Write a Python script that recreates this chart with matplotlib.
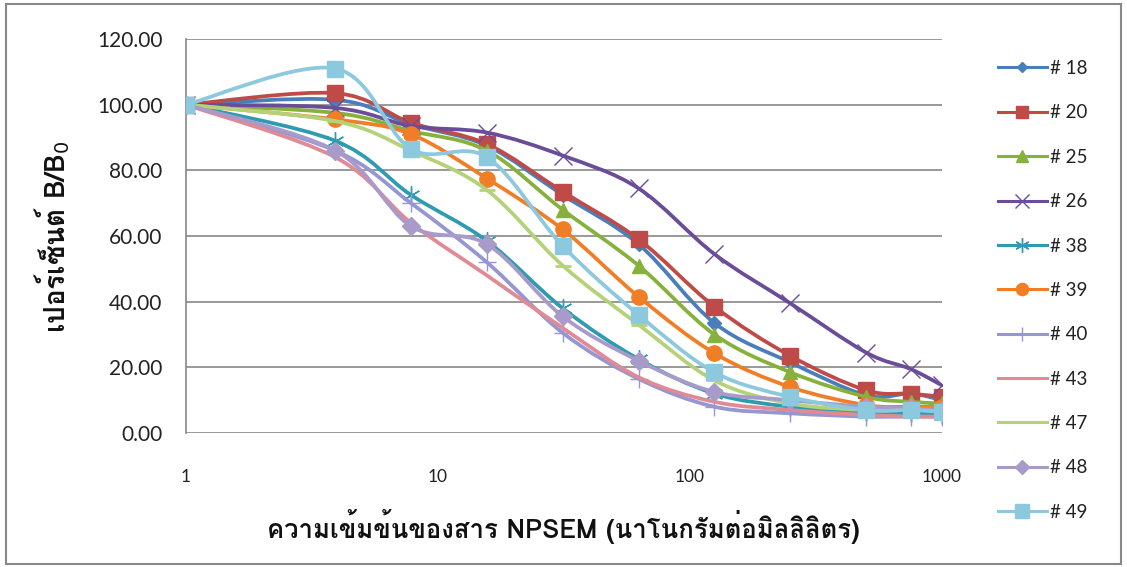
import numpy as np
import matplotlib
matplotlib.use("Agg")
import matplotlib.pyplot as plt
from matplotlib.path import Path
from matplotlib.patches import PathPatch, Rectangle
from matplotlib.lines import Line2D
import matplotlib.font_manager as fm
from matplotlib.ft2font import FT2Font

# ---------------- data ----------------
conc = [1, 3.91, 7.81, 15.63, 31.25, 62.5, 125, 250, 500, 750, 1000]
labels = ["# 18", "# 20", "# 25", "# 26", "# 38", "# 39", "# 40", "# 43", "# 47", "# 48", "# 49"]
s18 = [100, 101.5, 94, 87.5, 72.5, 57.5, 33.5, 21.5, 11.5, 12, 10]
s20 = [100, 103.5, 94.5, 88, 73.5, 59, 38.5, 23.5, 13, 12, 11]
s25 = [100, 97.5, 92, 86, 68, 51, 30, 18.5, 11, 9.5, 9]
s26 = [100, 99, 93.5, 91.5, 84.5, 74.5, 54.5, 39.5, 24.5, 19.5, 14.5]
s38 = [100, 89, 72.5, 58.5, 38, 22.5, 12, 8, 6.5, 6, 5.5]
s39 = [100, 95.5, 91, 77.5, 62, 41.5, 24.3, 14, 8.5, 8, 8]
s40 = [100, 86, 70, 52, 30.5, 16.5, 8, 6, 5, 5, 5]
s43 = [100, 84, 64, 48, 32, 17, 9.5, 7, 5.5, 5, 5]
s47 = [100, 95, 86, 74, 51, 33, 16, 9, 7, 7, 7]
s48 = [100, 86, 63, 57.5, 35.5, 22, 12.5, 10, 8, 7.5, 7]
s49 = [100, 111, 86.5, 84, 57, 36, 18.5, 11, 7, 7, 6.5]
series = [s18, s20, s25, s26, s38, s39, s40, s43, s47, s48, s49]
yticks = [0, 20, 40, 60, 80, 100, 120]
xticks = [1, 10, 100, 1000]
xlabel = "ความเข้มข้นของสาร NPSEM (นาโนกรัมต่อมิลลิลิตร)"
ylabel = "เปอร์เซ็นต์ B/B$_0$"

# ---------------- styles ----------------
colors = ['#4A7EBB', '#BE4B48', '#86B13C', '#6A4C99', '#2E9BB0', '#F07E26',
          '#9696D2', '#E08A96', '#B5D27A', '#A99BC9', '#8CC9DF']
asterisk = (6, 2, 0)
markers = ['D', 's', '^', 'x', asterisk, 'o', '+', 'None', '_', 'D', 's']
msizes = [7, 11, 10, 13, 13, 11, 13, 0, 12, 9, 12]
mews = [1, 1, 1, 1, 1, 1, 1, 1, 2, 1, 1]

# find a font with Thai glyphs
thai_family = None
for f in fm.fontManager.ttflist:
    try:
        cm = FT2Font(f.fname).get_charmap()
    except Exception:
        continue
    if 0x0E01 in cm and 0x0E40 in cm and 0x0E21 in cm:
        thai_family = f.name
        break
lat = 'Lato'
fam = [thai_family, lat, 'DejaVu Sans'] if thai_family else [lat, 'DejaVu Sans']
plt.rcParams['font.family'] = [lat, 'DejaVu Sans']

W, H = 1127, 567
fig = plt.figure(figsize=(W / 100, H / 100), dpi=100)
L, R, T, B = 186, 942, 39, 433
ax = fig.add_axes([L / W, 1 - B / H, (R - L) / W, (B - T) / H])
ax.set_xscale('log')
ax.set_xlim(1, 1000)
ax.set_ylim(0, 120)

def smooth_path(xs, ys):
    lx = np.log10(np.asarray(xs, float))
    yy = np.asarray(ys, float)
    n = len(lx)
    verts = [(lx[0], yy[0])]
    codes = [Path.MOVETO]
    for i in range(n - 1):
        p0 = np.array([lx[max(i - 1, 0)], yy[max(i - 1, 0)]])
        p1 = np.array([lx[i], yy[i]])
        p2 = np.array([lx[i + 1], yy[i + 1]])
        p3 = np.array([lx[min(i + 2, n - 1)], yy[min(i + 2, n - 1)]])
        c1 = p1 + (p2 - p0) / 6.0
        c2 = p2 - (p3 - p1) / 6.0
        verts += [tuple(c1), tuple(c2), tuple(p2)]
        codes += [Path.CURVE4] * 3
    v = np.array(verts)
    v[:, 0] = 10 ** v[:, 0]
    return Path(v, codes)

handles = []
for i, (s, c, m, ms, mw, lab) in enumerate(zip(series, colors, markers, msizes, mews, labels)):
    z = 3 + i
    patch = PathPatch(smooth_path(conc, s), facecolor='none', edgecolor=c,
                      lw=2.7, zorder=z, capstyle='round', joinstyle='round')
    ax.add_patch(patch)
    if m != 'None':
        ax.plot(conc, s, linestyle='none', marker=m, markersize=ms, color=c,
                markeredgecolor=c, markeredgewidth=mw, zorder=z)
    handles.append(Line2D([], [], color=c, lw=2.2, marker=m,
                          markersize=ms * 0.8 if ms else 0, markeredgewidth=mw,
                          markeredgecolor=c, label=lab))

ax.set_yticks(yticks)
ax.set_yticklabels([f"{v:.2f}" for v in yticks])
ax.set_xticks(xticks)
ax.set_xticklabels([str(v) for v in xticks])
ax.xaxis.set_minor_locator(matplotlib.ticker.NullLocator())
ax.tick_params(axis='y', length=0, pad=17, labelsize=15, labelcolor='#222222')
ax.tick_params(axis='x', length=0, pad=26, labelsize=12.5, labelcolor='#222222')
ax.grid(axis='y', color='#888888', lw=1.2)
ax.set_axisbelow(True)
for sp in ['top', 'right', 'bottom']:
    ax.spines[sp].set_visible(False)
ax.spines['left'].set_color('#888888')
ax.spines['left'].set_linewidth(1.2)

fig.text(563 / W, 1 - 527 / H, xlabel, ha='center', va='center', fontsize=18.5,
         fontweight='bold', family=fam, color='#111111')
fig.text(52 / W, 1 - 237 / H, ylabel, ha='center', va='center', fontsize=20,
         fontweight='bold', family=fam, rotation=90, color='#111111')

leg = fig.legend(handles=handles, loc='upper left', bbox_to_anchor=(998 / W, 1 - 60 / H),
                 frameon=False, fontsize=13.5, handlelength=2.6, handletextpad=0.2,
                 labelspacing=1.46, borderaxespad=0, borderpad=0)
for t in leg.get_texts():
    t.set_color('#222222')

fig.patches.append(Rectangle((6 / W, 3 / H), (1121 - 6) / W, (563 - 3) / H,
                             transform=fig.transFigure, fill=False,
                             edgecolor='#888888', lw=1.5))
fig.savefig('out.png', dpi=100)
